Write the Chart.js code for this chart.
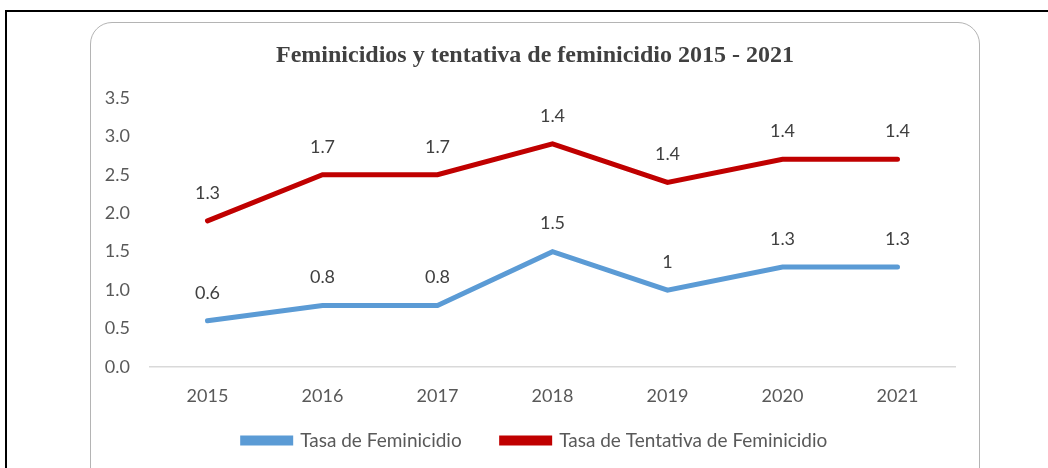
<!DOCTYPE html>
<html lang="es">
<head>
    <meta charset="UTF-8">
    <title>Feminicidios y tentativa de feminicidio 2015 - 2021</title>
    <script src="https://cdn.jsdelivr.net/npm/chart.js"></script>
    <style>
        * { margin: 0; padding: 0; box-sizing: border-box; }
        html, body { width: 1048px; height: 468px; overflow: hidden; background: #fff; }
        /* outer black frame, runs off the right and bottom edges */
        .frame {
            position: absolute; left: 5px; top: 10px;
            width: 1100px; height: 520px;
            border: 2px solid #000;
        }
        /* rounded chart box */
        .box {
            position: absolute; left: 90px; top: 22px;
            width: 890px; height: 480px;
            border: 1.5px solid #b4b4b4;
            border-radius: 22px;
        }
        #chartWrap { position: absolute; left: 0; top: 0; width: 1048px; height: 468px; }
    </style>
</head>
<body>
    <div class="frame"></div>
    <div class="box"></div>
    <div id="chartWrap"><canvas id="femChart"></canvas></div>

    <script>
        // data
        const years = ['2015', '2016', '2017', '2018', '2019', '2020', '2021'];
        const tasaFeminicidio = [0.6, 0.8, 0.8, 1.5, 1, 1.3, 1.3];
        const tasaTentativa = [1.3, 1.7, 1.7, 1.4, 1.4, 1.4, 1.4];   // stacked on top of the first series
        const yTicks = [0, 0.5, 1, 1.5, 2, 2.5, 3, 3.5];

        const sansFamily = 'Lato, "Open Sans", sans-serif';
        const tickFont = { family: sansFamily, size: 18 };

        // writes each point's own value above it (like Excel data labels)
        const valueLabels = {
            id: 'valueLabels',
            afterDatasetsDraw(chart) {
                const ctx = chart.ctx;
                ctx.save();
                ctx.font = '18px ' + sansFamily;
                ctx.fillStyle = '#404040';
                ctx.textAlign = 'center';
                ctx.textBaseline = 'middle';
                chart.data.datasets.forEach((ds, i) => {
                    const meta = chart.getDatasetMeta(i);
                    meta.data.forEach((pt, j) => {
                        ctx.fillText(String(ds.data[j]), pt.x, pt.y - 28);
                    });
                });
                ctx.restore();
            }
        };

        // legend padding is also used vertically; keep the wide gap between items,
        // give the box a fixed height and stretch its top upwards after layout
        const legendHeight = {
            id: 'legendHeight',
            beforeInit(chart) {
                const lg = chart.legend;
                if (!lg) return;
                const fit = lg.fit;
                lg.fit = function () {
                    fit.call(this);
                    this.height = 51;
                };
            },
            afterLayout(chart) {
                const lg = chart.legend;
                if (!lg) return;
                lg.top -= 26;
                lg.height += 26;
            }
        };

        new Chart(document.getElementById('femChart'), {
            type: 'line',
            data: {
                labels: years,
                datasets: [{
                    label: 'Tasa de Feminicidio',
                    data: tasaFeminicidio,
                    borderColor: '#5b9bd5',
                    backgroundColor: '#5b9bd5',
                    borderWidth: 5,
                    pointRadius: 0,
                    borderCapStyle: 'round',
                    fill: false
                }, {
                    label: 'Tasa de Tentativa de Feminicidio',
                    data: tasaTentativa,
                    borderColor: '#c00000',
                    backgroundColor: '#c00000',
                    borderWidth: 5,
                    pointRadius: 0,
                    borderCapStyle: 'round',
                    fill: false
                }]
            },
            options: {
                responsive: true,
                maintainAspectRatio: false,
                animation: false,
                layout: { padding: { left: 100, right: 78, top: 30, bottom: 0 } },
                scales: {
                    x: {
                        offset: true,
                        afterFit(scale) { scale.height = 50; },
                        grid: { display: false, drawTicks: false },
                        border: { display: true, color: '#d9d9d9', width: 1.5 },
                        ticks: { color: '#595959', font: tickFont, padding: 18 }
                    },
                    y: {
                        stacked: true,
                        min: 0,
                        max: 3.5,
                        afterFit(scale) { scale.width = 50; },
                        afterBuildTicks(scale) { scale.ticks = yTicks.map(v => ({ value: v })); },
                        grid: { display: false, drawTicks: false },
                        border: { display: false },
                        ticks: {
                            color: '#595959',
                            font: tickFont,
                            padding: 20,
                            callback: v => v.toFixed(1)
                        }
                    },
                    // empty spacer on the right so the title and legend centre on the box
                    yRight: {
                        position: 'right',
                        afterFit(scale) { scale.width = 15; },
                        grid: { display: false, drawTicks: false },
                        border: { display: false },
                        ticks: { display: false }
                    }
                },
                plugins: {
                    title: {
                        display: true,
                        text: 'Feminicidios y tentativa de feminicidio 2015 - 2021',
                        color: '#404040',
                        font: { family: '"Liberation Serif", "Times New Roman", serif', size: 24, weight: 'bold' },
                        padding: { top: 11, bottom: 28 }
                    },
                    legend: {
                        position: 'bottom',
                        labels: {
                            color: '#595959',
                            font: { family: sansFamily, size: 19 },
                            boxWidth: 48,
                            boxHeight: 5,
                            padding: 40
                        }
                    },
                    tooltip: { enabled: false }
                }
            },
            plugins: [valueLabels, legendHeight]
        });
    </script>
</body>
</html>
